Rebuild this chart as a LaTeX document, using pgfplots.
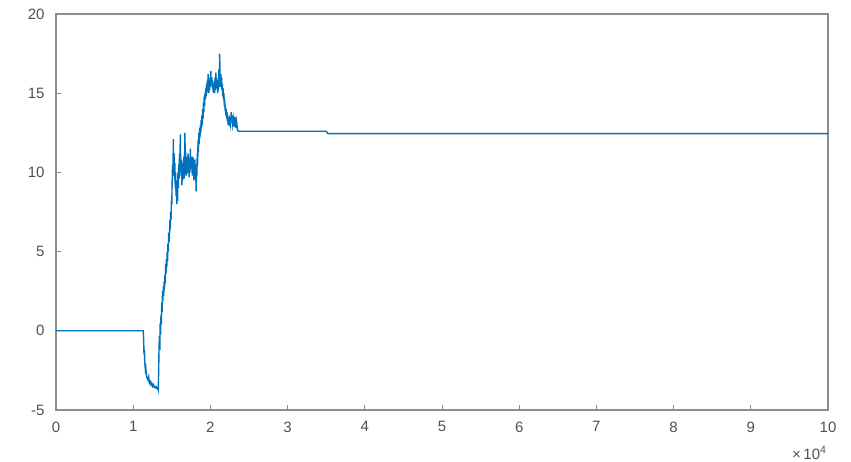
\documentclass[border=0pt]{standalone}
\usepackage{fontspec}
\setmainfont{Liberation Sans}
\usepackage{pgfplots}
\pgfplotsset{compat=1.18}
\definecolor{mblue}{RGB}{0,114,189}
\definecolor{axgray}{RGB}{140,140,140}
\definecolor{txtgray}{RGB}{80,80,80}
\begin{document}
\begin{tikzpicture}
\path[use as bounding box] (-56pt,-52pt) rectangle (795pt,410pt);
\begin{axis}[
  at={(0,0)}, anchor=south west,
  scale only axis, width=772pt, height=396pt,
  xmin=0, xmax=10, ymin=-5, ymax=20,
  xtick={0,1,...,10}, ytick={-5,0,5,10,15,20},
  tick align=inside, tickpos=left,
  major tick length=5pt,
  axis line style={axgray, line width=1.2pt},
  every tick/.style={axgray, line width=1pt},
  tick label style={font=\fontsize{15}{17}\selectfont, text=txtgray},
  /pgf/number format/assume math mode=true,
  xticklabel style={yshift=-8pt},
  yticklabel style={xshift=-8pt},
  clip=true,
]
\addplot[mblue, line width=1.4pt] coordinates {
(0,0) (1.13,0) (1.135,-0.5) (1.14,-1.5) (1.145,-1.2) (1.15,-2.0) (1.155,-2.3) (1.16,-2.1) (1.17,-2.8) (1.18,-3.0) (1.19,-3.1) (1.20,-2.9) (1.21,-3.3) (1.22,-3.2) (1.23,-3.4) (1.24,-3.3) (1.25,-3.5) (1.26,-3.4) (1.27,-3.55) (1.28,-3.5) (1.29,-3.6) (1.30,-3.55) (1.31,-3.65) (1.32,-3.6) (1.325,-3.7)
(1.33,-2.5) (1.335,-1.0) (1.34,-0.3) (1.345,-1.2) (1.35,0.5) (1.355,-0.2) (1.36,1.0) (1.365,0.4) (1.37,1.8) (1.375,1.2) (1.38,2.5) (1.385,1.9) (1.39,2.8) (1.395,2.2) (1.40,3.1) (1.405,2.6) (1.41,3.5) (1.415,3.0) (1.42,4.2) (1.425,3.6) (1.43,4.5) (1.435,4.0) (1.44,5.0) (1.445,4.4) (1.45,5.5) (1.455,5.0) (1.46,6.2) (1.465,5.6) (1.47,6.0) (1.475,7.0) (1.48,6.4) (1.485,7.5) (1.49,7.0) (1.495,8.2) (1.50,8.0) (1.505,9.5) (1.51,10.5) (1.515,9.8) (1.52,12.1) (1.525,10.2) (1.53,11.2) (1.535,9.5) (1.54,10.6) (1.545,9.0) (1.55,10.0) (1.555,8.5) (1.56,9.5) (1.565,8.0) (1.57,9.2) (1.575,8.2) (1.58,10.0) (1.585,9.0) (1.59,10.5) (1.595,9.6) (1.60,11.2) (1.605,10.0) (1.61,12.4) (1.615,10.5) (1.62,9.8) (1.625,10.8) (1.63,9.2) (1.635,10.2) (1.64,9.5) (1.645,10.6) (1.65,9.8) (1.655,11.0) (1.66,9.6) (1.665,10.4) (1.67,12.5) (1.675,10.5) (1.68,11.3) (1.685,9.8) (1.69,10.7) (1.695,9.9) (1.70,11.0) (1.705,10.0) (1.71,11.2) (1.715,10.3) (1.72,10.9) (1.725,9.7) (1.73,10.6) (1.735,10.0) (1.74,11.5) (1.745,10.4) (1.75,11.0) (1.755,10.2) (1.76,10.8) (1.765,9.8) (1.77,11.0) (1.775,10.3) (1.78,10.9) (1.785,9.5) (1.79,10.5) (1.795,9.9) (1.80,10.8) (1.805,9.6) (1.81,10.2) (1.815,8.8) (1.82,10.5) (1.825,9.8) (1.83,11.2) (1.835,10.5) (1.84,12.0) (1.845,11.3) (1.85,12.5) (1.855,11.8) (1.86,12.8) (1.865,12.2) (1.87,13.0) (1.875,12.5) (1.88,13.3) (1.885,12.8) (1.89,13.6) (1.895,13.0) (1.90,14.0) (1.905,13.4) (1.91,14.4) (1.915,13.8) (1.92,14.8) (1.925,14.2) (1.93,15.0) (1.935,14.6) (1.94,15.3) (1.945,14.8) (1.95,15.6) (1.955,15.0) (1.96,15.8) (1.965,15.2) (1.97,16.2) (1.975,15.4) (1.98,15.0) (1.985,15.8) (1.99,15.2) (1.995,16.0) (2.00,15.4) (2.005,16.4) (2.01,15.6) (2.02,16.0) (2.025,15.3) (2.03,15.8) (2.035,15.1) (2.04,15.6) (2.045,15.0) (2.05,15.5) (2.055,15.0) (2.06,16.0) (2.065,15.2) (2.07,16.3) (2.075,15.5) (2.08,16.0) (2.085,15.3) (2.09,15.8) (2.095,15.0) (2.10,15.6) (2.105,15.2) (2.11,16.5) (2.115,15.6) (2.12,17.5) (2.125,16.0) (2.13,15.4) (2.135,16.2) (2.14,15.5) (2.145,16.0) (2.15,15.2) (2.155,15.6) (2.16,14.8) (2.165,15.3) (2.17,14.6) (2.175,15.0) (2.18,14.2) (2.185,14.6) (2.19,13.9) (2.195,14.2) (2.20,13.6) (2.205,14.0) (2.21,13.4) (2.215,13.8) (2.22,13.2) (2.225,13.6) (2.23,13.0) (2.24,13.4) (2.245,12.9) (2.25,13.3) (2.26,13.0) (2.27,13.8) (2.275,13.2) (2.28,13.6) (2.29,13.0) (2.30,13.4) (2.31,12.9) (2.32,13.5) (2.33,12.8) (2.34,13.2) (2.35,12.7) (2.36,12.6)
(3.50,12.6) (3.52,12.45) (10,12.45)
};
\end{axis}
\node[anchor=east, font=\fontsize{15}{17}\selectfont, text=txtgray] at (774pt,-43pt) {×\,10\textsuperscript{4}};
\end{tikzpicture}
\end{document}
